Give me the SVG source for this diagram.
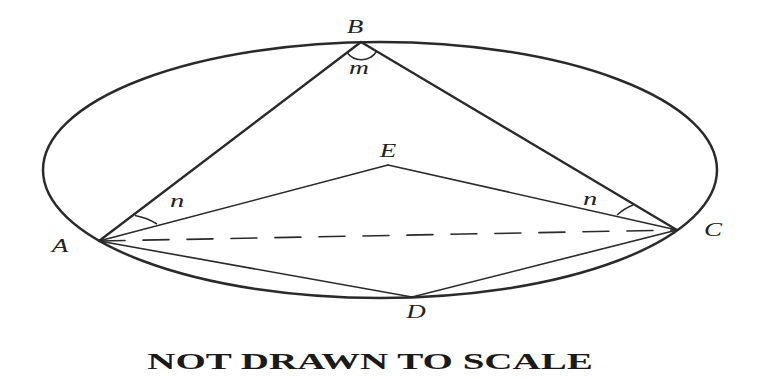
<svg xmlns="http://www.w3.org/2000/svg" width="762" height="379" viewBox="0 0 762 379">
<style>
.lbl{font-family:"Liberation Serif","Times New Roman",serif;font-style:italic;font-size:18px;fill:#222;text-anchor:middle}
.sm{font-size:19px}
.edge{stroke:#2a2a2a;fill:none;stroke-linecap:round}
.thin{stroke-width:1.6}
.thick{stroke-width:2.3}
.arc{stroke:#2a2a2a;stroke-width:1.5;fill:none}
.title{font-family:"Liberation Serif","Times New Roman",serif;font-weight:bold;font-size:23px;fill:#1a1a1a;text-anchor:middle}
</style>
<rect width="762" height="379" fill="#ffffff"/>
<ellipse id="circle" cx="380" cy="170" rx="337" ry="128" fill="none" stroke="#2a2a2a" stroke-width="2.5"/>
<g id="connectors">
<line class="edge thick" x1="99" y1="241" x2="361" y2="42"/>
<line class="edge thick" x1="361" y1="42" x2="677" y2="230"/>
<line class="edge thin" x1="99" y1="241" x2="388" y2="165"/>
<line class="edge thin" x1="388" y1="165" x2="677" y2="230"/>
<line class="edge thin" x1="99" y1="241" x2="412" y2="297"/>
<line class="edge thin" x1="412" y1="297" x2="677" y2="230"/>
<line class="edge thin" x1="99" y1="241" x2="677" y2="230" stroke-dasharray="26 18" stroke-linecap="butt"/>
</g>
<g id="angles">
<path class="arc" d="M347,52.5 A18 18 0 0 0 376.5,51.5"/>
<text class="lbl sm" transform="translate(359,74) scale(1.45,1)">m</text>
<path class="arc" d="M135,215.5 A55 40 0 0 1 157,224"/>
<text class="lbl sm" transform="translate(177,207) scale(1.5,1)">n</text>
<path class="arc" d="M617,215 A55 40 0 0 1 633,205"/>
<text class="lbl sm" transform="translate(590,205) scale(1.5,1)">n</text>
</g>
<g id="node-A"><text class="lbl" transform="translate(60,252) scale(1.5,1)">A</text></g>
<g id="node-B"><text class="lbl" transform="translate(355,33) scale(1.5,1)">B</text></g>
<g id="node-C"><text class="lbl" transform="translate(713,236) scale(1.5,1)">C</text></g>
<g id="node-D"><text class="lbl" transform="translate(416,318) scale(1.5,1)">D</text></g>
<g id="node-E"><text class="lbl" transform="translate(388,157) scale(1.5,1)">E</text></g>
<text class="title" transform="translate(370,369) scale(1.65,1)" x="0" y="0" textLength="270" lengthAdjust="spacingAndGlyphs">NOT DRAWN TO SCALE</text>
</svg>
